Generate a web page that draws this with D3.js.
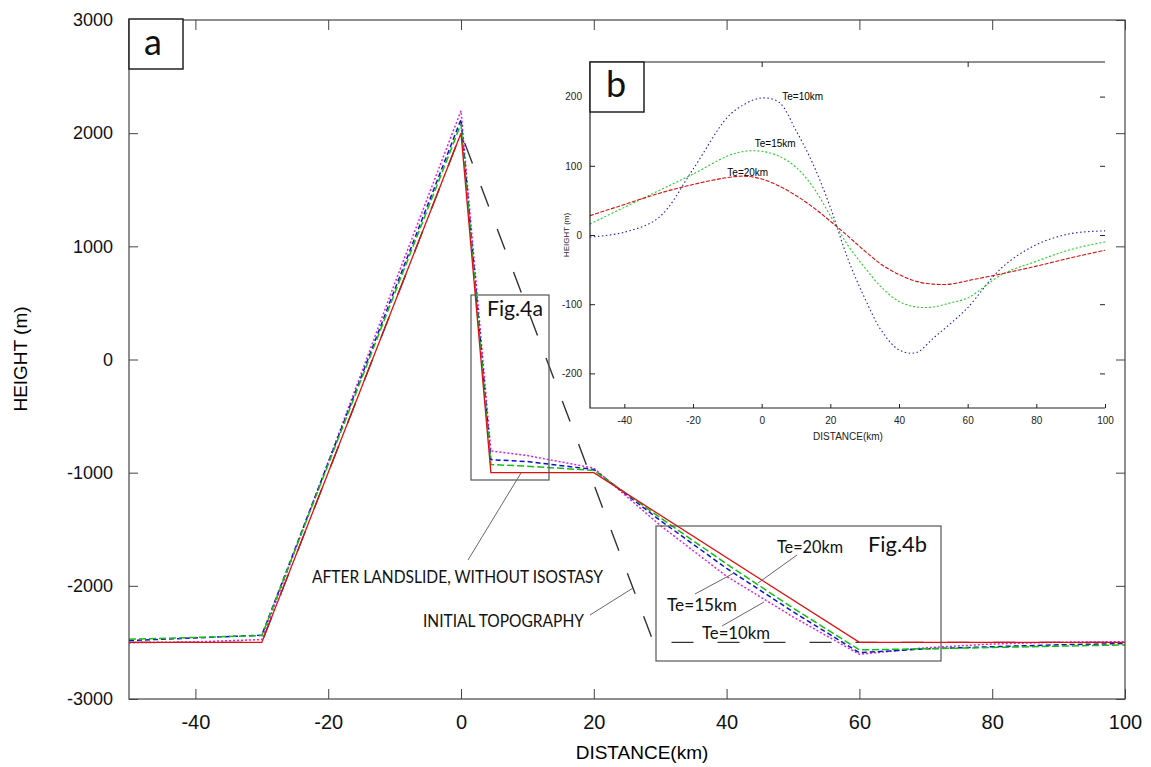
<!DOCTYPE html>
<html>
<head>
<meta charset="utf-8">
<script src="https://cdn.jsdelivr.net/npm/d3@7"></script>
<style>
  body { margin: 0; background: #fff; }
  svg { display: block; font-family: "Liberation Sans", Arial, sans-serif; }
  .note { font-family: Lato, "Open Sans", sans-serif; fill: #111; }
</style>
</head>
<body>
<svg id="chart" width="1151" height="767"></svg>
<script>
// main profile (a): distance in km, height in m
var distA = [-50, -40, -30, -20, -10, 0, 4.5, 10, 20, 30, 40, 50, 60, 70, 80, 90, 100]
var initX = [-50, -30, 0, 29, 100]
var initY = [-2500, -2500, 2000, -2500, -2500]
var noIsoX = [-50, -30, 0, 4.5, 20, 60, 100]
var noIsoY = [-2500, -2500, 2000, -1000, -1000, -2500, -2500]
var te20Y = [-2472, -2456, -2440, -927, 583, 2081, -928, -943, -980, -1398, -1807, -2196, -2566, -2556, -2545, -2533, -2522]
var te15Y = [-2484, -2460, -2436, -912, 614, 2121, -885, -902, -972, -1422, -1846, -2229, -2591, -2557, -2538, -2521, -2510]
var te10Y = [-2503, -2495, -2475, -905, 670, 2198, -808, -849, -960, -1466, -1916, -2274, -2605, -2547, -2514, -2498, -2494]
var xTicksA = [-40, -20, 0, 20, 40, 60, 80, 100]
var yTicksA = [-3000, -2000, -1000, 0, 1000, 2000, 3000]

// inset (b): isostatic response, height in m
var distB = [-50, -40, -30, -20, -10, -5, 0, 5, 10, 15, 20, 25, 30, 35, 40, 45, 50, 55, 60, 70, 80, 90, 100]
var defl10 = [-3, 4, 25, 95, 170, 189, 198, 192, 151, 102, 40, -33, -91, -139, -166, -170, -149, -128, -105, -47, -14, 2, 6]
var defl15 = [16, 40, 64, 88, 114, 121, 121, 114, 98, 69, 28, -14, -47, -76, -96, -104, -104, -98, -91, -57, -38, -21, -10]
var defl20 = [28, 44, 60, 73, 83, 85, 81, 71, 57, 40, 20, -1, -23, -43, -57, -67, -71, -71, -66, -56, -45, -33, -22]
var xTicksB = [-40, -20, 0, 20, 40, 60, 80, 100]
var yTicksB = [-200, -100, 0, 100, 200]

var svg = d3.select('#chart')
var plain = (d) => String(d)

// ---- main chart ----
var x = d3.scaleLinear().domain([-50, 100]).range([129, 1125])
var y = d3.scaleLinear().domain([-3000, 3000]).range([699, 20])

var line = d3.line().x((d) => x(d[0])).y((d) => y(d[1]))
var zip = (xs, ys) => xs.map((v, i) => [v, ys[i]])

var gA = svg.append('g')

gA.append('path')
  .attr('d', line(zip(initX, initY)))
  .attr('fill', 'none').attr('stroke', '#333').attr('stroke-width', 1.4)
  .attr('stroke-dasharray', '22,24')

var series = [
  {ys: te10Y, color: '#e020e0', dash: '2,2', w: 1.5},
  {ys: te15Y, color: '#1010d0', dash: '5,3', w: 1.5},
  {ys: te20Y, color: '#10c010', dash: '7,3', w: 1.5}
]
series.forEach(function (s) {
  gA.append('path')
    .attr('d', line(zip(distA, s.ys)))
    .attr('fill', 'none').attr('stroke', s.color)
    .attr('stroke-width', s.w).attr('stroke-dasharray', s.dash)
})
gA.append('path')
  .attr('d', line(zip(noIsoX, noIsoY)))
  .attr('fill', 'none').attr('stroke', '#e01010').attr('stroke-width', 1.3)

// frame + axes
gA.append('rect')
  .attr('x', 129).attr('y', 20).attr('width', 1125 - 129).attr('height', 699 - 20)
  .attr('fill', 'none').attr('stroke', '#444').attr('stroke-width', 1.2)

var axB = gA.append('g').attr('transform', 'translate(0,699)')
  .call(d3.axisBottom(x).tickValues(xTicksA).tickFormat(plain).tickSizeInner(-10).tickSizeOuter(0).tickPadding(16))
var axL = gA.append('g').attr('transform', 'translate(129,0)')
  .call(d3.axisLeft(y).tickValues(yTicksA).tickFormat(plain).tickSizeInner(-9).tickSizeOuter(0).tickPadding(16))
gA.append('g').attr('transform', 'translate(0,20)')
  .call(d3.axisTop(x).tickValues(xTicksA).tickSizeInner(-10).tickSizeOuter(0).tickFormat(''))
gA.append('g').attr('transform', 'translate(1125,0)')
  .call(d3.axisRight(y).tickValues(yTicksA).tickSizeInner(-9).tickSizeOuter(0).tickFormat(''))
gA.selectAll('.domain').remove()
gA.selectAll('.tick line').attr('stroke', '#444')
axB.selectAll('text').attr('font-size', 20).attr('fill', '#111')
axL.selectAll('text').attr('font-size', 18).attr('fill', '#111')

svg.append('text').attr('x', 642).attr('y', 759).attr('text-anchor', 'middle')
  .attr('font-size', 19).text('DISTANCE(km)')
svg.append('text').attr('transform', 'translate(27,359) rotate(-90)').attr('text-anchor', 'middle')
  .attr('font-size', 19).text('HEIGHT (m)')

// panel label a
svg.append('rect').attr('x', 129).attr('y', 19).attr('width', 54).attr('height', 50)
  .attr('fill', '#fff').attr('stroke', '#222').attr('stroke-width', 1.5)
svg.append('text').attr('x', 153).attr('y', 55).attr('text-anchor', 'middle')
  .attr('class', 'note').attr('font-size', 36).text('a')

// annotations
var note = svg.append('g').attr('class', 'note')
note.append('rect').attr('x', 471).attr('y', 295).attr('width', 78).attr('height', 185)
  .attr('fill', 'none').attr('stroke', '#555').attr('stroke-width', 1.2)
note.append('text').attr('x', 487).attr('y', 316).attr('font-size', 22)
  .attr('textLength', 56).attr('lengthAdjust', 'spacingAndGlyphs').text('Fig.4a')
note.append('rect').attr('x', 656).attr('y', 526).attr('width', 285).attr('height', 135)
  .attr('fill', 'none').attr('stroke', '#555').attr('stroke-width', 1.2)
note.append('text').attr('x', 868).attr('y', 552).attr('font-size', 22)
  .attr('textLength', 59).attr('lengthAdjust', 'spacingAndGlyphs').text('Fig.4b')

note.append('line').attr('x1', 468).attr('y1', 560).attr('x2', 521).attr('y2', 473)
  .attr('stroke', '#666').attr('stroke-width', 1)
note.append('text').attr('x', 312).attr('y', 583).attr('font-size', 18)
  .attr('textLength', 291).attr('lengthAdjust', 'spacingAndGlyphs').text('AFTER LANDSLIDE, WITHOUT ISOSTASY')
note.append('line').attr('x1', 590).attr('y1', 615).attr('x2', 633).attr('y2', 588)
  .attr('stroke', '#666').attr('stroke-width', 1)
note.append('text').attr('x', 423).attr('y', 627).attr('font-size', 18)
  .attr('textLength', 161).attr('lengthAdjust', 'spacingAndGlyphs').text('INITIAL TOPOGRAPHY')

note.append('line').attr('x1', 797).attr('y1', 555).attr('x2', 758).attr('y2', 583).attr('stroke', '#666')
note.append('text').attr('x', 777).attr('y', 553).attr('font-size', 18)
  .attr('textLength', 66).attr('lengthAdjust', 'spacingAndGlyphs').text('Te=20km')
note.append('line').attr('x1', 695).attr('y1', 594).attr('x2', 734).attr('y2', 573).attr('stroke', '#666')
note.append('text').attr('x', 667).attr('y', 611).attr('font-size', 18)
  .attr('textLength', 70).attr('lengthAdjust', 'spacingAndGlyphs').text('Te=15km')
note.append('line').attr('x1', 722).attr('y1', 626).attr('x2', 764).attr('y2', 602).attr('stroke', '#666')
note.append('text').attr('x', 702).attr('y', 639).attr('font-size', 18)
  .attr('textLength', 68).attr('lengthAdjust', 'spacingAndGlyphs').text('Te=10km')

// ---- inset (b) ----
var ix = d3.scaleLinear().domain([-50, 100]).range([590, 1105])
var iy = d3.scaleLinear().domain([-250, 250]).range([408, 62])
var iline = d3.line().curve(d3.curveCatmullRom).x((d) => ix(d[0])).y((d) => iy(d[1]))

var gB = svg.append('g')
var inset = [
  {ys: defl10, color: '#2020c0', dash: '1.5,2.5'},
  {ys: defl15, color: '#20d020', dash: '2,2'},
  {ys: defl20, color: '#d01010', dash: '4,1.5'}
]
inset.forEach(function (s) {
  gB.append('path')
    .attr('d', iline(zip(distB, s.ys)))
    .attr('fill', 'none').attr('stroke', s.color)
    .attr('stroke-width', 1.1).attr('stroke-dasharray', s.dash)
})

gB.append('path')
  .attr('d', 'M1105,62H590V408H1105')
  .attr('fill', 'none').attr('stroke', '#222').attr('stroke-width', 1.2)
var ibx = gB.append('g').attr('transform', 'translate(0,408)')
  .call(d3.axisBottom(ix).tickValues(xTicksB).tickFormat(plain).tickSizeInner(-4).tickSizeOuter(0).tickPadding(9))
var ily = gB.append('g').attr('transform', 'translate(590,0)')
  .call(d3.axisLeft(iy).tickValues(yTicksB).tickFormat(plain).tickSizeInner(-5).tickSizeOuter(0).tickPadding(8))
gB.append('g').attr('transform', 'translate(0,62)')
  .call(d3.axisTop(ix).tickValues([0, 60]).tickSizeInner(-5).tickSizeOuter(0).tickFormat(''))
gB.append('g').attr('transform', 'translate(1105,0)')
  .call(d3.axisRight(iy).tickValues(yTicksB).tickSizeInner(-5).tickSizeOuter(0).tickFormat(''))
gB.selectAll('.domain').remove()
gB.selectAll('.tick line').attr('stroke', '#222')
gB.selectAll('.tick text').attr('font-size', 10).attr('fill', '#222')

svg.append('text').attr('x', 848).attr('y', 440).attr('text-anchor', 'middle')
  .attr('font-size', 10).attr('fill', '#222').text('DISTANCE(km)')
svg.append('text').attr('transform', 'translate(569,235) rotate(-90)').attr('text-anchor', 'middle')
  .attr('font-size', 8).attr('fill', '#222').text('HEIGHT (m)')

svg.append('text').attr('x', ix(6)).attr('y', iy(200) + 3).attr('font-size', 10).text('Te=10km')
svg.append('text').attr('x', ix(-2)).attr('y', iy(131) + 3).attr('font-size', 10).text('Te=15km')
svg.append('text').attr('x', ix(-10)).attr('y', iy(90) + 3).attr('font-size', 10).text('Te=20km')

svg.append('rect').attr('x', 590).attr('y', 62).attr('width', 54).attr('height', 50)
  .attr('fill', '#fff').attr('stroke', '#222').attr('stroke-width', 1.5)
svg.append('text').attr('x', 616).attr('y', 97).attr('text-anchor', 'middle')
  .attr('class', 'note').attr('font-size', 36).text('b')
</script>
</body>
</html>
